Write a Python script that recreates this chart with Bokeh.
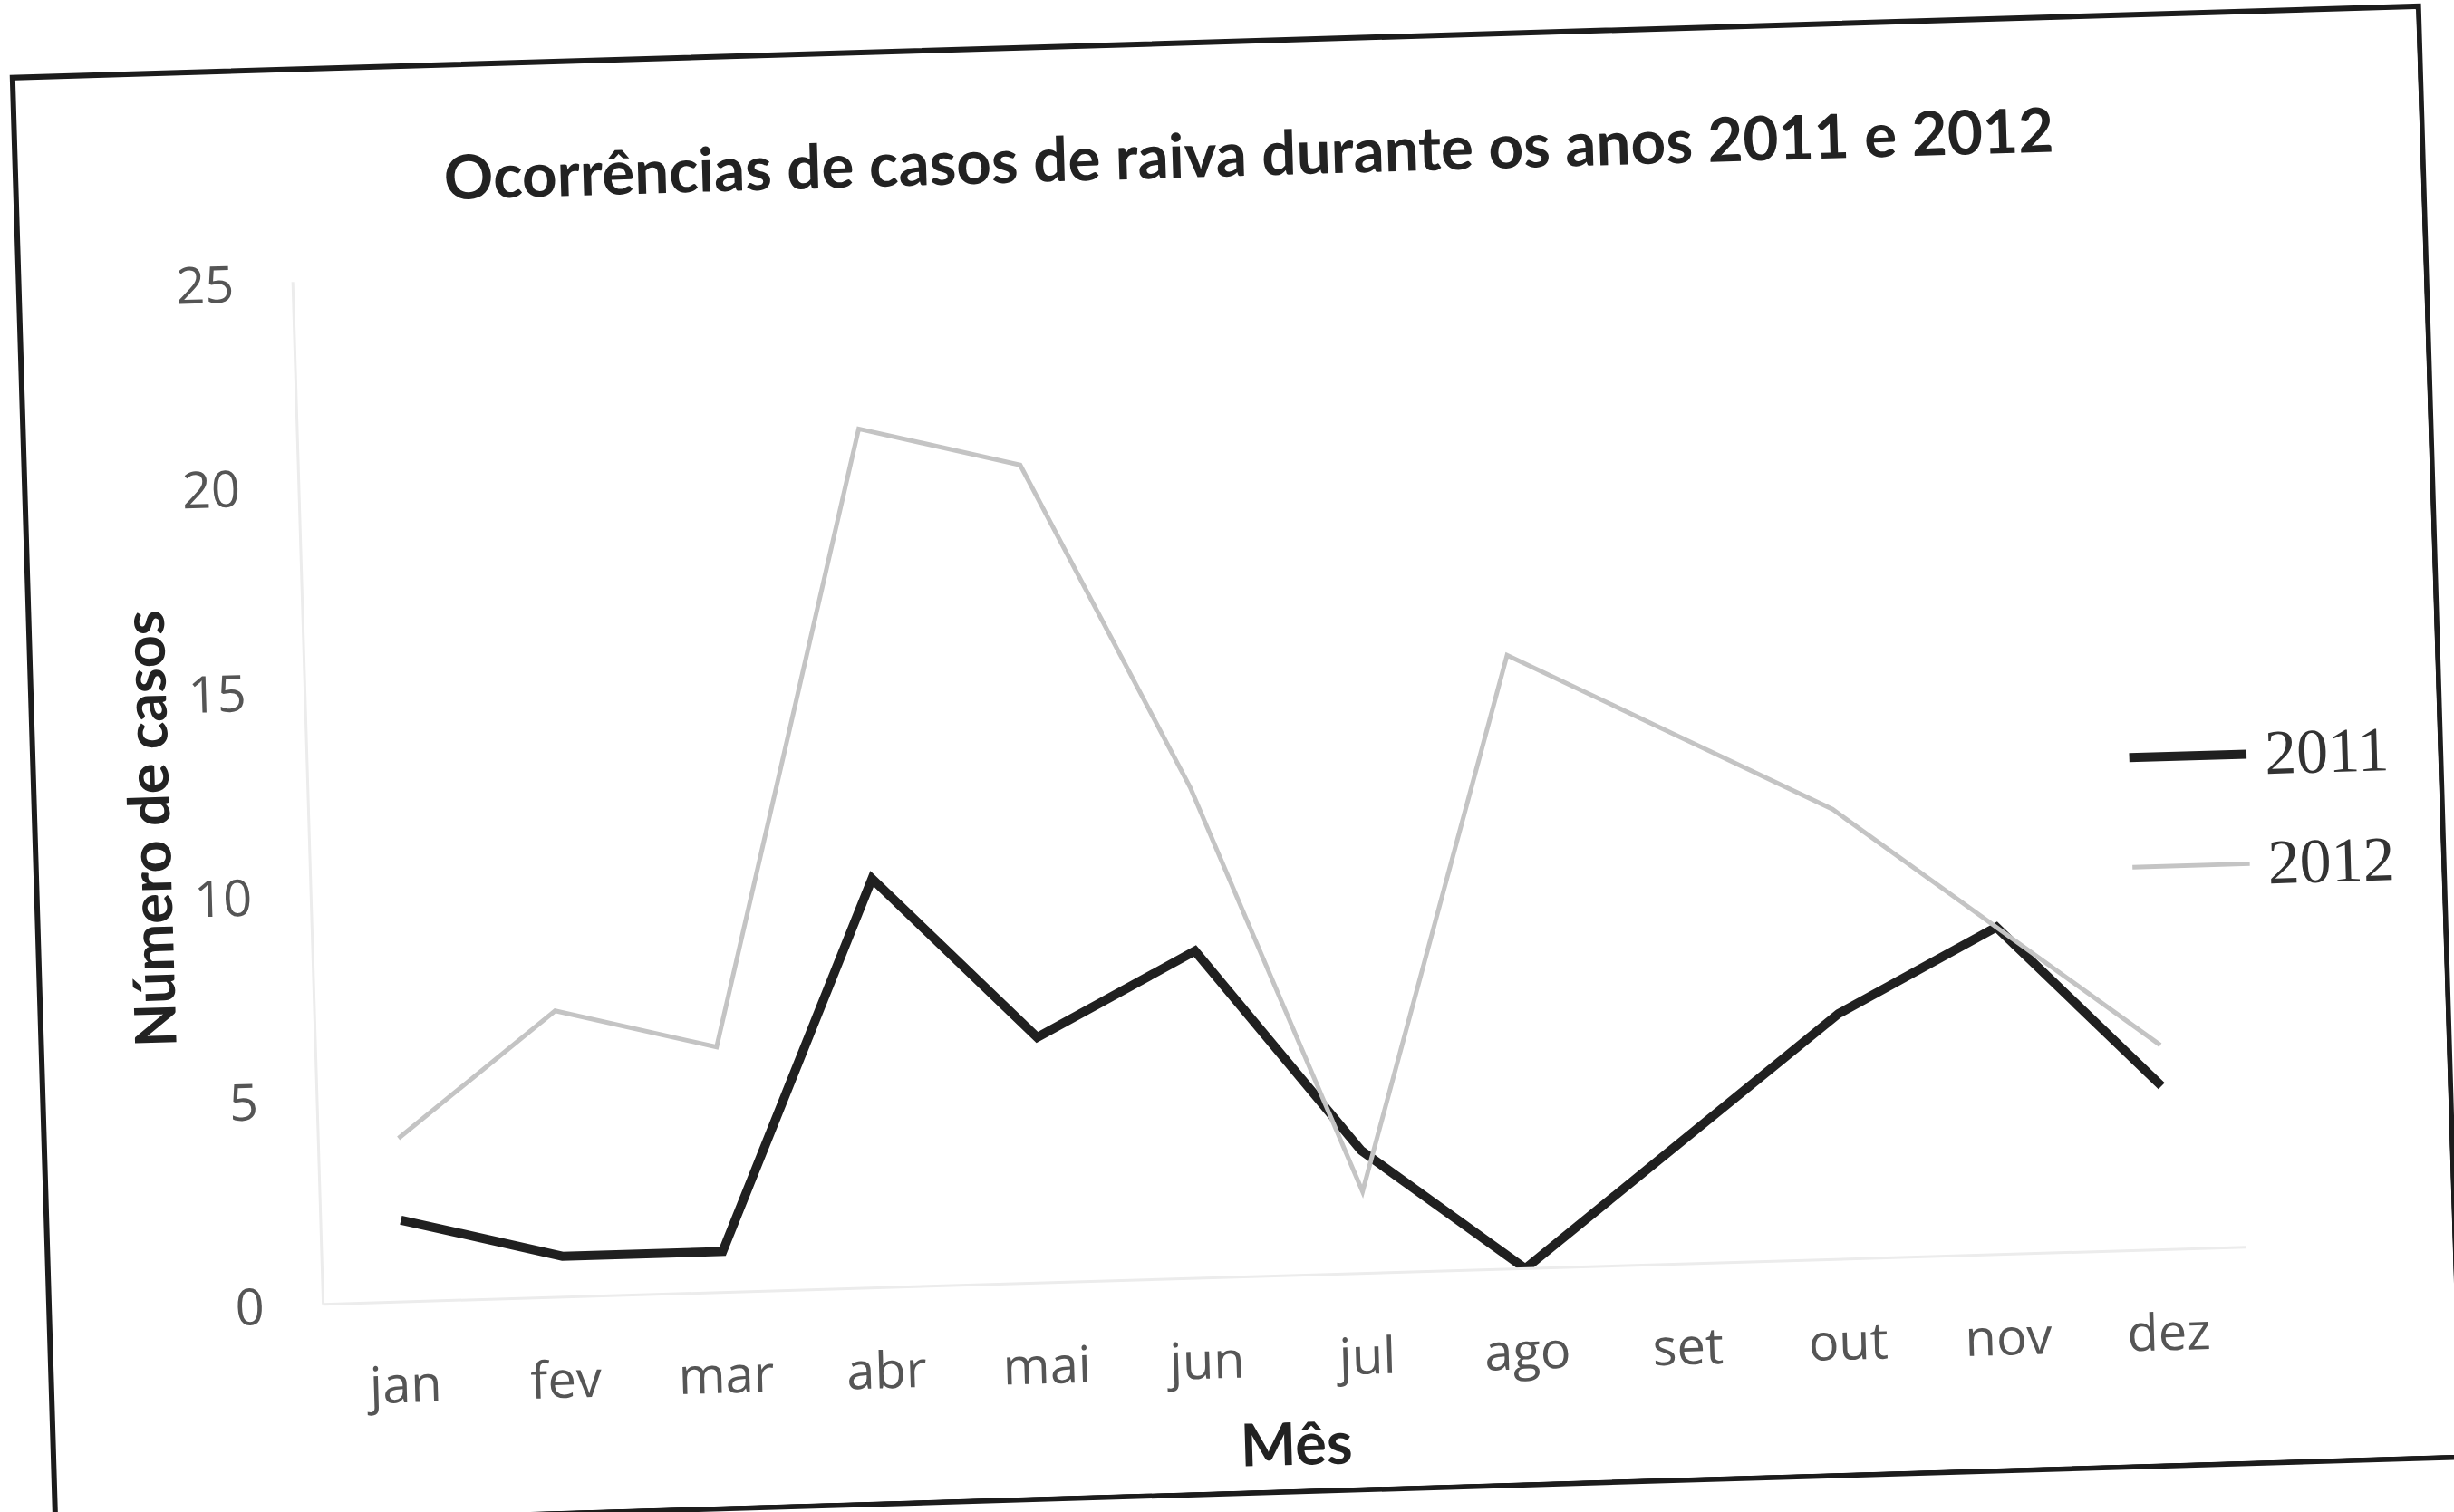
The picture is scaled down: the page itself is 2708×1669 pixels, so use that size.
from bokeh.plotting import figure
from bokeh.models import Legend, LegendItem, FixedTicker, Range1d, Title
from bokeh.embed import file_html
from bokeh.resources import INLINE

# ---- data ----
months = ["jan", "fev", "mar", "abr", "mai", "jun", "jul", "ago", "set", "out", "nov", "dez"]
cases_2011 = [2, 1, 1, 10, 6, 8, 3, 0, 3, 6, 8, 4]
cases_2012 = [4, 7, 6, 21, 20, 12, 2, 15, 13, 11, 8, 5]
y_ticks = [0, 5, 10, 15, 20, 25]
title_text = "Ocorrências de casos de raiva durante os anos 2011 e 2012"
x_label = "Mês"
y_label = "Número de casos"

month_pos = list(range(len(months)))

W, H = 2650, 1596
p = figure(width=W, height=H, x_range=Range1d(-0.5, 12.73),
           y_range=Range1d(0, 25), output_backend="svg", toolbar_location=None,
           min_border_left=299, min_border_right=10, min_border_top=231, min_border_bottom=225)
p.styles = {"margin-left": "40px", "margin-top": "49px", "overflow": "visible"}
p.stylesheets = [
    ":host { overflow: visible; }",
    ".bk-Canvas { transform: rotate(-1.7deg); transform-origin: 50% 50%; "
    "outline: 6px solid #1c1c1c; outline-offset: 0px; }",
]

p.title.text = title_text
p.title.text_font = "Lato"
p.title.text_font_style = "bold"
p.title.text_font_size = "67.5px"
p.title.text_color = "#222222"
p.title.align = "left"
p.title.offset = 170
p.title.standoff = 144

p.xgrid.grid_line_color = None
p.ygrid.grid_line_color = None
p.outline_line_color = None
p.background_fill_color = "white"
p.border_fill_color = "white"

r1 = p.line(month_pos, cases_2011, line_color="#202020", line_width=10, line_join="miter")
r2 = p.line(month_pos, cases_2012, line_color="#c4c4c4", line_width=5, line_join="miter")

for ax in (p.xaxis[0], p.yaxis[0]):
    ax.axis_line_color = "#ececec"
    ax.axis_line_width = 3
    ax.major_tick_line_color = None
    ax.minor_tick_line_color = None
    ax.major_label_text_font = "Open Sans"
    ax.major_label_text_font_size = "56px"
    ax.major_label_text_color = "#555555"
    ax.axis_label = None

p.yaxis.ticker = FixedTicker(ticks=y_ticks)
p.yaxis.major_label_standoff = 59

p.xaxis.ticker = FixedTicker(ticks=month_pos)
p.xaxis.major_label_overrides = {i: m for i, m in zip(month_pos, months)}
p.xaxis.bounds = (-0.5, len(months) - 0.5)
p.xaxis.major_label_standoff = 45

# axis titles placed like the original (not centred on the whole frame)
xt = Title(text=x_label, align="left", offset=1007, standoff=26,
           text_font="Lato", text_font_style="bold", text_font_size="65px", text_color="#222222")
p.add_layout(xt, "below")
yt = Title(text=y_label, align="left", offset=289, standoff=17,
           text_font="Lato", text_font_style="bold", text_font_size="63px", text_color="#222222")
p.add_layout(yt, "left")

legend = Legend(items=[LegendItem(label="2011", renderers=[r1]),
                       LegendItem(label="2012", renderers=[r2])],
                location=(2010, 383), orientation="vertical")
legend.border_line_color = None
legend.background_fill_alpha = 0
legend.padding = 0
legend.margin = 0
legend.spacing = 41
legend.glyph_width = 130
legend.glyph_height = 80
legend.label_height = 80
legend.label_standoff = 20
legend.label_text_font = "Liberation Serif"
legend.label_text_font_size = "70px"
legend.label_text_color = "#333333"
p.add_layout(legend, "center")

open("out.html", "w").write(file_html(p, INLINE))
